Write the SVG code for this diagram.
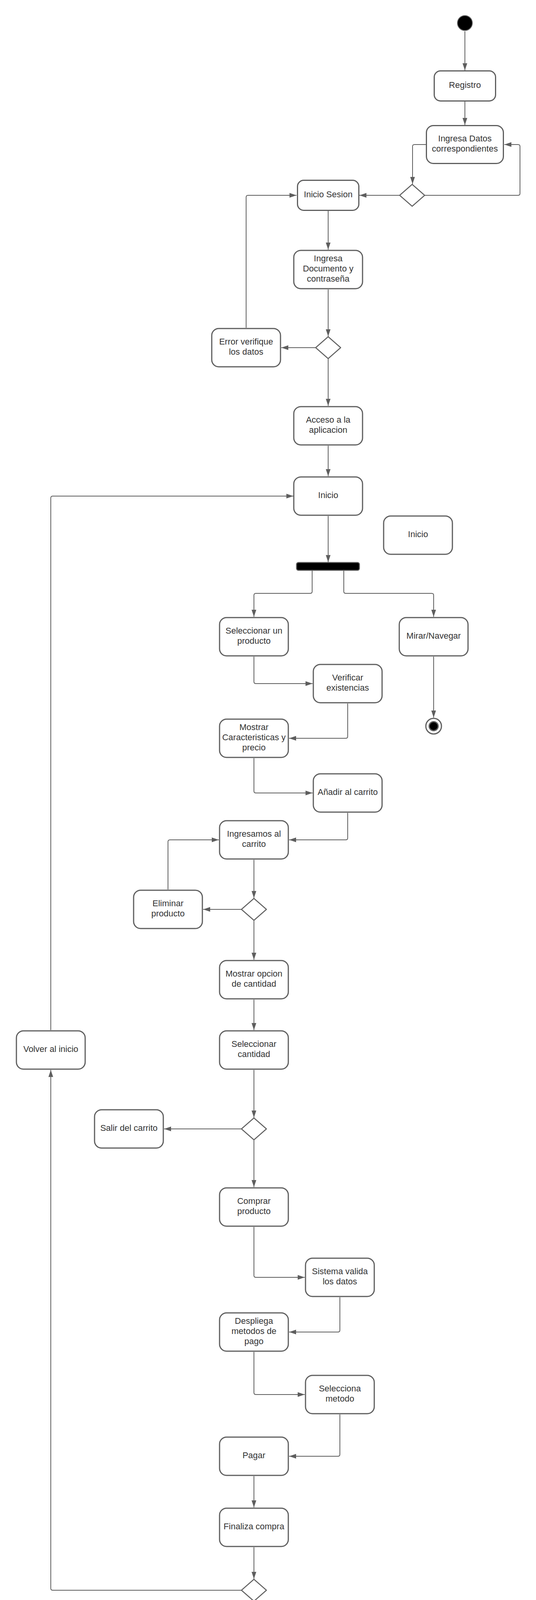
<svg xmlns="http://www.w3.org/2000/svg" width="1372" height="4320" viewBox="0 0 1372 4320">
<style>
.box{fill:#ffffff;stroke:#5e5e5e;stroke-width:3}
.dia{fill:#ffffff;stroke:#5e5e5e;stroke-width:2.5;stroke-linejoin:round}
.c{fill:none;stroke:#5e5e5e;stroke-width:2;stroke-linejoin:round}
.t{font-family:"Liberation Sans",Arial,sans-serif;font-size:22px;fill:#333333;text-anchor:middle}
.endo{fill:#ffffff;stroke:#5e5e5e;stroke-width:3}
.endi{fill:#000000;stroke:#5e5e5e;stroke-width:3}
</style>
<defs>
<marker id="ah" viewBox="0 0 18 12" refX="18" refY="6" markerWidth="18" markerHeight="12" markerUnits="userSpaceOnUse" orient="auto">
<path d="M0,0 L18,6 L0,12 Z" fill="#5e5e5e"/>
</marker>
</defs>
<rect width="1372" height="4320" fill="#ffffff"/>
<g id="connectors" class="c" marker-end="url(#ah)">
<path d="M1190,80 V180"/>
<path d="M1190,260 V320"/>
<path d="M1090,370 H1061 Q1056,370 1056,375 V471"/>
<path d="M1088,500 H1326 Q1331,500 1331,495 V375 Q1331,370 1326,370 H1291"/>
<path d="M1022,500 H920"/>
<path d="M840,540 V639"/>
<path d="M840,741 V861"/>
<path d="M808,890 H720"/>
<path d="M630,839 V505 Q630,500 635,500 H759"/>
<path d="M840,919 V1039"/>
<path d="M840,1141 V1219"/>
<path d="M840,1321 V1439"/>
<path d="M799,1460 V1514 Q799,1519 794,1519 H655 Q650,1519 650,1524 V1579"/>
<path d="M880,1460 V1514 Q880,1519 885,1519 H1105 Q1110,1519 1110,1524 V1579"/>
<path d="M1110,1681 V1837"/>
<path d="M650,1681 V1745 Q650,1750 655,1750 H800"/>
<path d="M890,1801 V1885 Q890,1890 885,1890 H740"/>
<path d="M650,1941 V2025 Q650,2030 655,2030 H800"/>
<path d="M890,2081 V2145 Q890,2150 885,2150 H740"/>
<path d="M650,2201 V2299"/>
<path d="M618,2328 H520"/>
<path d="M430,2277 V2155 Q430,2150 435,2150 H560"/>
<path d="M650,2357 V2457"/>
<path d="M650,2559 V2637"/>
<path d="M650,2739 V2861"/>
<path d="M618,2890 H420"/>
<path d="M650,2919 V3039"/>
<path d="M650,3141 V3265 Q650,3270 655,3270 H780"/>
<path d="M870,3321 V3405 Q870,3410 865,3410 H740"/>
<path d="M650,3461 V3565 Q650,3570 655,3570 H780"/>
<path d="M870,3621 V3723 Q870,3728 865,3728 H740"/>
<path d="M650,3779 V3859"/>
<path d="M650,3961 V4042"/>
<path d="M618,4071 H135 Q130,4071 130,4066 V2739"/>
<path d="M130,2637 V1275 Q130,1270 135,1270 H751"/>
<path d="M650,4100 V4237"/>
</g>
<g id="start"><circle cx="1190" cy="59" r="19" fill="#000000" stroke="#5e5e5e" stroke-width="2"/></g>
<g id="n-registro"><rect class="box" x="1111.5" y="181.5" width="157" height="77" rx="16"/><text class="t" x="1190" y="225">Registro</text></g>
<g id="n-ingresa-datos"><rect class="box" x="1091.5" y="321.5" width="197" height="97" rx="18"/><text class="t" x="1190" y="362">Ingresa Datos</text><text class="t" x="1190" y="388">correspondientes</text></g>
<g id="d1"><polygon class="dia" points="1055,472 1087,500 1055,528 1023,500"/></g>
<g id="n-inicio-sesion"><rect class="box" x="761.5" y="461.5" width="157" height="77" rx="16"/><text class="t" x="840" y="505">Inicio Sesion</text></g>
<g id="n-ingresa-doc"><rect class="box" x="752" y="641" width="176" height="98" rx="18"/><text class="t" x="840" y="669">Ingresa</text><text class="t" x="840" y="695">Documento y</text><text class="t" x="840" y="721">contraseña</text></g>
<g id="d2"><polygon class="dia" points="840,862 872,890 840,918 808,890"/></g>
<g id="n-error"><rect class="box" x="542" y="841" width="176" height="98" rx="18"/><text class="t" x="630" y="882">Error verifique</text><text class="t" x="630" y="908">los datos</text></g>
<g id="n-acceso"><rect class="box" x="752" y="1041" width="176" height="98" rx="18"/><text class="t" x="840" y="1082">Acceso a la</text><text class="t" x="840" y="1108">aplicacion</text></g>
<g id="n-inicio"><rect class="box" x="752" y="1221" width="176" height="98" rx="18"/><text class="t" x="840" y="1275">Inicio</text></g>
<g id="n-inicio-2"><rect class="box" x="982" y="1321" width="176" height="98" rx="18"/><text class="t" x="1070" y="1375">Inicio</text></g>
<g id="fork"><rect x="759" y="1440" width="161" height="20" rx="5" fill="#000000" stroke="#5e5e5e" stroke-width="2.5"/></g>
<g id="n-seleccionar-producto"><rect class="box" x="562" y="1581" width="176" height="98" rx="18"/><text class="t" x="650" y="1622">Seleccionar un</text><text class="t" x="650" y="1648">producto</text></g>
<g id="n-mirar"><rect class="box" x="1022" y="1581" width="176" height="98" rx="18"/><text class="t" x="1110" y="1635">Mirar/Navegar</text></g>
<g id="end-1"><circle class="endo" cx="1110" cy="1859" r="20"/><circle class="endi" cx="1110" cy="1859" r="11.5"/></g>
<g id="n-verificar"><rect class="box" x="802" y="1701" width="176" height="98" rx="18"/><text class="t" x="890" y="1742">Verificar</text><text class="t" x="890" y="1768">existencias</text></g>
<g id="n-mostrar-caract"><rect class="box" x="562" y="1841" width="176" height="98" rx="18"/><text class="t" x="650" y="1869">Mostrar</text><text class="t" x="650" y="1895">Caracteristicas y</text><text class="t" x="650" y="1921">precio</text></g>
<g id="n-anadir"><rect class="box" x="802" y="1981" width="176" height="98" rx="18"/><text class="t" x="890" y="2035">Añadir al carrito</text></g>
<g id="n-ingresamos"><rect class="box" x="562" y="2101" width="176" height="98" rx="18"/><text class="t" x="650" y="2142">Ingresamos al</text><text class="t" x="650" y="2168">carrito</text></g>
<g id="d3"><polygon class="dia" points="650,2300 682,2328 650,2356 618,2328"/></g>
<g id="n-eliminar"><rect class="box" x="342" y="2279" width="176" height="98" rx="18"/><text class="t" x="430" y="2320">Eliminar</text><text class="t" x="430" y="2346">producto</text></g>
<g id="n-mostrar-opcion"><rect class="box" x="562" y="2459" width="176" height="98" rx="18"/><text class="t" x="650" y="2500">Mostrar opcion</text><text class="t" x="650" y="2526">de cantidad</text></g>
<g id="n-seleccionar-cantidad"><rect class="box" x="562" y="2639" width="176" height="98" rx="18"/><text class="t" x="650" y="2680">Seleccionar</text><text class="t" x="650" y="2706">cantidad</text></g>
<g id="n-volver"><rect class="box" x="42" y="2639" width="176" height="98" rx="18"/><text class="t" x="130" y="2693">Volver al inicio</text></g>
<g id="d4"><polygon class="dia" points="650,2862 682,2890 650,2918 618,2890"/></g>
<g id="n-salir"><rect class="box" x="242" y="2841" width="176" height="98" rx="18"/><text class="t" x="330" y="2895">Salir del carrito</text></g>
<g id="n-comprar"><rect class="box" x="562" y="3041" width="176" height="98" rx="18"/><text class="t" x="650" y="3082">Comprar</text><text class="t" x="650" y="3108">producto</text></g>
<g id="n-sistema"><rect class="box" x="782" y="3221" width="176" height="98" rx="18"/><text class="t" x="870" y="3262">Sistema valida</text><text class="t" x="870" y="3288">los datos</text></g>
<g id="n-despliega"><rect class="box" x="562" y="3361" width="176" height="98" rx="18"/><text class="t" x="650" y="3389">Despliega</text><text class="t" x="650" y="3415">metodos de</text><text class="t" x="650" y="3441">pago</text></g>
<g id="n-selecciona-metodo"><rect class="box" x="782" y="3521" width="176" height="98" rx="18"/><text class="t" x="870" y="3562">Selecciona</text><text class="t" x="870" y="3588">metodo</text></g>
<g id="n-pagar"><rect class="box" x="562" y="3679" width="176" height="98" rx="18"/><text class="t" x="650" y="3733">Pagar</text></g>
<g id="n-finaliza"><rect class="box" x="562" y="3861" width="176" height="98" rx="18"/><text class="t" x="650" y="3915">Finaliza compra</text></g>
<g id="d5"><polygon class="dia" points="650,4043 682,4071 650,4099 618,4071"/></g>
<g id="end-2"><circle class="endo" cx="650" cy="4259" r="20"/><circle class="endi" cx="650" cy="4259" r="11.5"/></g>
</svg>
